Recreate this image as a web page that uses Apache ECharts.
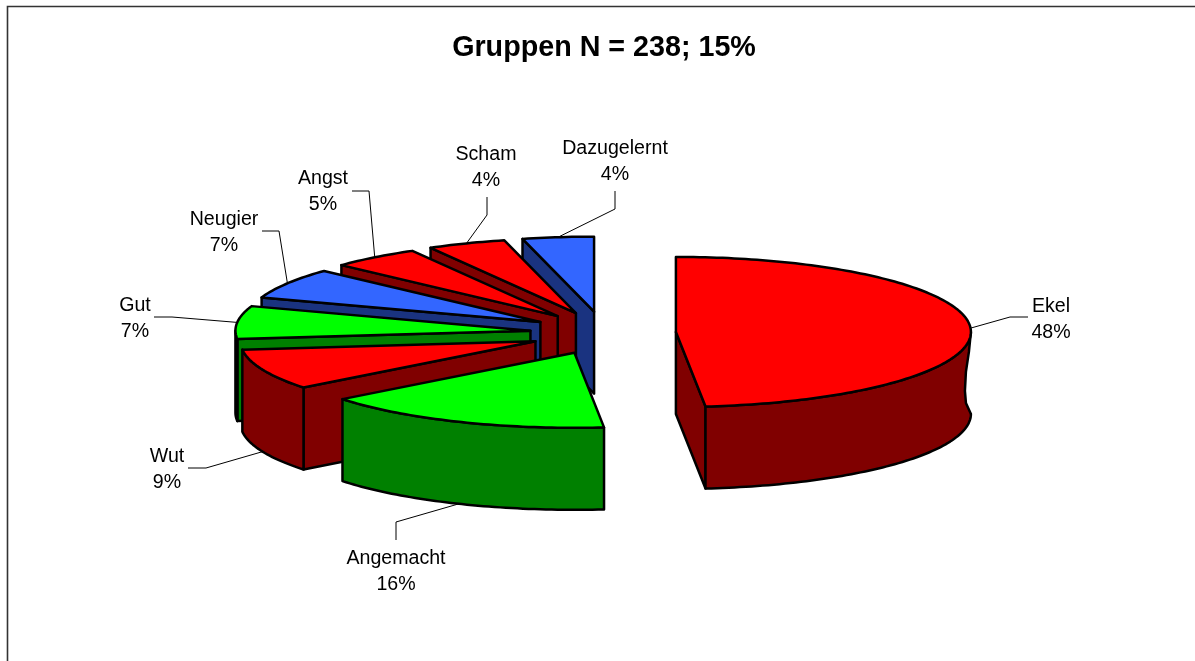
<!DOCTYPE html>
<html>
<head>
<meta charset="utf-8">
<style>html,body{margin:0;padding:0;background:#fff}#c{width:1195px;height:661px}</style>
<script src="https://cdn.jsdelivr.net/npm/echarts@6/dist/echarts.min.js"></script>
</head>
<body>
<div id="c"></div>
<script>
// ---- data ----
var titleText = 'Gruppen N = 238; 15%';
var categories = ['Ekel', 'Angemacht', 'Wut', 'Gut', 'Neugier', 'Angst', 'Scham', 'Dazugelernt'];
var shares = [48.4, 16, 8.8, 7.1, 6.6, 4.9, 4.3, 3.9];

// ---- styles ----
var topColors = ['#FF0000', '#00FF00', '#FF0000', '#00FF00', '#3366FF', '#FF0000', '#FF0000', '#3366FF'];
var wallColors = ['#800000', '#008000', '#800000', '#008000', '#1A3380', '#800000', '#800000', '#1A3380'];

// ---- layout of the projected pie ----
var centre = [603, 333], radius = [295, 75], explode = [73, 21.5], depth = 82;
// label centre and leader elbow points, for each category
var labelAt = [[1051, 320], [396, 572], [167, 470], [135, 319], [224, 233], [323, 192], [486, 168], [615, 162]];
var elbows = [
  [[1028, 317], [1010, 317]],
  [[396, 540], [396, 522]],
  [[188, 468], [206, 468]],
  [[154, 317], [172, 317]],
  [[262, 231], [279, 231]],
  [[352, 191], [369, 191]],
  [[487, 197], [487, 215]],
  [[615, 191], [615, 209]]
];
var pinch = [[-2, 20], [-5, 40], [-6, 59], [-5, 71]]; // waist of the silhouette on the right of the largest slice

var total = shares.reduce(function (a, b) { return a + b; }, 0);
var starts = [], acc = 0;
shares.forEach(function (v) { starts.push(acc / total * 2 * Math.PI); acc += v; });

function apexOf(i, value) {
  var mid = starts[i] + value / total * Math.PI;
  return [centre[0] + explode[0] * Math.sin(mid), centre[1] - explode[1] * Math.cos(mid)];
}
function rim(apex, a, drop) {
  return [apex[0] + radius[0] * Math.sin(a), apex[1] - radius[1] * Math.cos(a) + (drop || 0)];
}
function arc(apex, a0, a1, drop) {
  var n = Math.max(2, Math.ceil(Math.abs(a1 - a0) / 0.02)), out = [];
  for (var k = 0; k <= n; k++) out.push(rim(apex, a0 + (a1 - a0) * k / n, drop));
  return out;
}
function face(points, fill, z2) {
  return { type: 'polygon', z2: z2, shape: { points: points },
    style: { fill: fill, stroke: '#000', lineWidth: 2.5, lineJoin: 'round' } };
}

function renderSlice(params, api) {
  var i = params.dataIndex, value = api.value(0);
  var a0 = starts[i], a1 = a0 + value / total * 2 * Math.PI, mid = (a0 + a1) / 2;
  var apex = apexOf(i, value), low = [apex[0], apex[1] + depth];
  var base = (categories.length - i) * 10;      // painter's order: last category is furthest back
  if (i === 0) base = 200;
  var kids = [];
  // radial walls: only those that face the viewer
  if (Math.sin(a0) < -1e-6) kids.push(face([apex, rim(apex, a0), rim(apex, a0, depth), low], wallColors[i], base));
  if (Math.sin(a1) > 1e-6) kids.push(face([apex, rim(apex, a1), rim(apex, a1, depth), low], wallColors[i], base));
  // outer wall: only the part that faces the viewer
  var f0 = Math.max(a0, Math.PI / 2), f1 = Math.min(a1, 1.5 * Math.PI);
  if (f1 > f0) {
    var wall = arc(apex, f0, f1, 0).concat(arc(apex, f1, f0, depth));
    if (a0 < Math.PI / 2 && a1 > Math.PI / 2) {
      var t = rim(apex, Math.PI / 2);
      pinch.slice().reverse().forEach(function (p) { wall.push([t[0] + p[0], t[1] + p[1]]); });
    }
    kids.push(face(wall, wallColors[i], base + 1));
  }
  // top
  kids.push(face([apex].concat(arc(apex, a0, a1, 0)), topColors[i], base + 2));
  // leader and label
  var front = Math.cos(mid) < -0.3;
  var anchor = rim(apex, mid, front ? depth : 0);
  kids.push({ type: 'polyline', z2: 300, shape: { points: elbows[i].concat([anchor]) },
    style: { stroke: '#000', lineWidth: 1, fill: null } });
  kids.push({ type: 'text', z2: 301,
    style: { text: categories[i] + '\n' + Math.round(value) + '%', x: labelAt[i][0], y: labelAt[i][1],
      align: 'center', verticalAlign: 'middle', lineHeight: 26,
      font: '19.6px "Liberation Sans", Arial, sans-serif', fill: '#000' } });
  return { type: 'group', children: kids };
}

var chart = echarts.init(document.getElementById('c'), null, { renderer: 'canvas' });
chart.setOption({
  animation: false,
  backgroundColor: '#fff',
  title: { text: titleText, left: 599, top: 29, textAlign: 'center',
    textStyle: { fontFamily: '"Liberation Sans", Arial, sans-serif', fontWeight: 'bold', fontSize: 28.7, color: '#000' } },
  graphic: [{ type: 'rect', silent: true, z: -1, shape: { x: 7.5, y: 6.5, width: 1400, height: 900 },
    style: { fill: null, stroke: '#333', lineWidth: 1.6 } }],
  series: [{
    type: 'custom',
    coordinateSystem: 'none',
    silent: true,
    clip: false,
    data: shares.map(function (v, i) { return { name: categories[i], value: [v] }; }),
    renderItem: renderSlice
  }]
});
</script>
</body>
</html>
